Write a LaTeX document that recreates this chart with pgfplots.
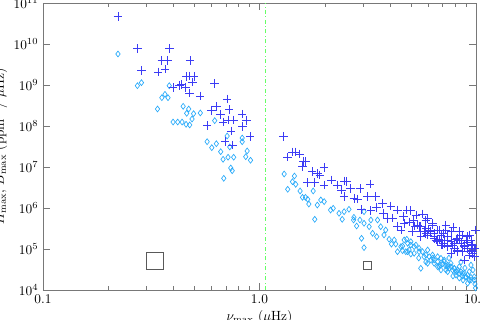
\documentclass[border=0pt]{standalone}
\usepackage{pgfplots}
\pgfplotsset{compat=1.18}
\definecolor{plusblue}{RGB}{60,60,245}
\definecolor{diablue}{RGB}{40,170,250}
\definecolor{axgray}{RGB}{120,120,120}
\begin{document}
\begin{tikzpicture}
\begin{axis}[
  at={(0,0)}, anchor=south west,
  scale only axis, width=324.75pt, height=215.25pt,
  xmode=log, ymode=log,
  xmin=0.1, xmax=10, ymin=1e4, ymax=1e11,
  axis line style={axgray},
  tick style={axgray},
  major tick length=5.5pt, minor tick length=3pt,
  xtick={0.1,1,10}, xticklabels={0.1,1.0,10.0},
  ytick={1e4,1e5,1e6,1e7,1e8,1e9,1e10,1e11},
  yminorticks=false,
  xlabel={$\nu_{\max}$ ($\mu$Hz)},
  ylabel={$H_{\max}$, $B_{\max}$ (ppm$^2$ / $\mu$Hz)},
  xlabel style={yshift=2pt},
  ylabel style={yshift=-2pt},
  clip=true,
]
% vertical separator
\addplot[color=green!60!white, dash dot, thin] coordinates {(1.066,1e4) (1.066,1e11)};
% B_max (diamonds)
\addplot[only marks, mark=diamond, mark size=2.2pt, color=diablue, mark options={draw=diablue, fill=none, line width=0.5pt}] coordinates {
(0.222,5.70e9) (0.273,9.62e8) (0.285,1.14e9) (0.383,9.62e8) (0.366,5.93e8) (0.354,4.90e8)
(0.378,4.90e8) (0.338,2.60e8) (0.444,3.02e8) (0.471,2.60e8) (0.461,2.04e8) (0.496,2.00e8)
(0.533,2.08e8) (0.488,1.48e8) (0.399,1.25e8) (0.419,1.25e8) (0.439,1.25e8) (0.458,1.10e8)
(0.476,1.06e8) (0.621,1.35e8) (0.709,5.70e7) (0.573,4.14e7) (0.632,3.70e7) (0.602,2.96e7)
(0.832,5.10e7) (0.832,4.14e7) (0.729,3.08e7) (0.877,2.46e7) (0.662,2.36e7) (0.864,1.78e7)
(0.716,1.73e7) (0.760,1.73e7) (0.679,1.54e7) (0.909,1.46e7) (0.737,9.46e6) (0.684,5.30e6)
(0.748,8.13e6)
(1.30,6.75e6) (1.35,2.86e6) (1.42,4.38e6) (1.45,6.03e6) (1.47,3.78e6) (1.54,2.60e6)
(1.58,1.82e6) (1.63,1.82e6) (1.67,1.63e6) (1.77,2.60e6) (1.69,1.25e6) (1.85,1.18e6)
(1.92,1.57e6) (1.99,1.43e6) (2.13,8.93e5) (2.19,9.84e5) (1.80,5.30e5) (2.33,7.43e5)
(2.41,5.30e5) (2.46,8.13e5) (2.59,9.30e5) (2.73,5.93e5) (2.72,5.10e5) (2.91,5.10e5)
(2.81,3.64e5) (3.04,4.24e5) (3.27,5.10e5) (2.96,1.82e5) (3.04,1.08e5) (3.21,3.50e5)
(3.33,2.42e5) (3.48,2.00e5) (3.76,2.20e5) (3.83,2.91e5) (3.97,1.73e5) (4.19,1.66e5)
(4.26,1.32e5) (4.07,1.32e5) (4.58,1.18e5) (4.79,1.73e5) (5.00,1.51e5) (4.58,9.10e4)
(4.83,8.60e4) (5.28,1.25e5) (5.46,8.60e4) (5.56,3.38e4) (5.76,6.49e4) (5.98,9.46e4)
(6.19,5.39e4) (6.41,4.48e4) (6.65,6.49e4) (6.83,4.07e4) (7.13,5.39e4) (7.40,3.70e4)
(7.66,4.48e4) (7.94,3.38e4) (8.17,2.79e4) (8.37,3.70e4) (8.68,2.55e4) (8.99,2.11e4)
(9.31,2.79e4) (9.48,1.75e4) (9.82,2.11e4) (9.89,1.40e4) (9.15,1.46e4) (8.08,2.32e4)
(7.26,3.08e4) (6.65,3.70e4) (5.98,4.48e4) (5.18,7.85e4) (4.34,8.60e4) (3.63,3.50e5)
(3.51,5.10e5) (3.04,8.13e5) (7.50,6.03e4) (8.52,4.82e4) (8.89,3.44e4) (9.48,4.07e4)
(9.68,3.08e4) (9.95,1.12e4) (8.71,1.75e4) (7.83,2.19e4) (8.37,1.96e4) (6.89,3.08e4)
(6.32,6.03e4) (5.87,4.82e4) (5.44,6.03e4) (5.00,7.55e4)
(4.66,1.66e5) (4.83,1.38e5) (5.00,1.25e5) (5.18,1.14e5) (5.46,1.04e5) (5.66,8.60e4)
(5.87,7.14e4) (6.08,6.49e4) (6.30,7.14e4) (6.41,5.39e4) (6.65,4.90e4) (6.89,5.93e4)
(7.13,4.90e4) (7.40,4.07e4) (7.66,3.70e4) (7.94,3.38e4) (8.23,3.08e4) (8.52,2.79e4)
(8.83,2.55e4) (9.15,2.32e4) (9.48,2.04e4) (9.82,1.75e4) (9.31,1.75e4) (8.99,2.04e4)
(8.68,2.19e4) (8.37,2.55e4) (8.08,2.79e4) (7.80,3.08e4) (7.52,3.38e4) (7.26,3.85e4)
(7.01,4.31e4) (4.50,1.14e5) (4.74,8.60e4) (4.91,9.46e4) (6.76,3.70e4) (7.40,2.79e4)
};
% H_max (pluses)
\addplot[only marks, mark=+, mark size=3.2pt, color=plusblue, mark options={draw=plusblue, line width=0.6pt}] coordinates {
(0.222,4.63e10) (0.273,7.86e9) (0.384,7.86e9) (0.354,4.00e9) (0.376,4.00e9) (0.478,4.00e9)
(0.285,2.28e9) (0.340,2.08e9) (0.366,2.45e9) (0.459,1.63e9) (0.473,1.66e9) (0.498,1.63e9)
(0.490,1.18e9) (0.621,1.08e9) (0.426,9.84e8) (0.437,1.02e9) (0.399,8.79e8) (0.456,8.79e8)
(0.476,6.38e8) (0.532,5.39e8) (0.709,4.56e8) (0.632,2.96e8) (0.724,2.55e8) (0.600,2.42e8)
(0.662,1.89e8) (0.832,1.96e8) (0.871,1.38e8) (0.721,1.40e8) (0.760,1.40e8) (0.679,1.25e8)
(0.573,1.04e8) (0.834,9.84e7) (0.740,7.55e7) (0.906,5.48e7) (0.694,4.14e7) (0.752,3.44e7)
(1.29,5.48e7) (1.35,1.75e7) (1.42,2.32e7) (1.47,2.32e7) (1.53,2.08e7) (1.60,1.35e7)
(1.63,1.35e7) (1.58,1.02e7) (1.75,7.68e6) (1.85,7.02e6) (1.99,9.84e6) (1.90,6.38e6)
(1.67,4.14e6) (1.80,4.24e6) (1.99,3.64e6) (2.15,4.82e6) (2.29,3.64e6) (2.47,4.56e6)
(2.53,4.38e6) (2.39,2.75e6) (2.64,3.02e6) (2.91,3.02e6) (3.24,3.85e6) (2.46,1.89e6)
(2.73,1.73e6) (2.83,1.66e6) (3.15,1.89e6) (3.44,1.89e6) (2.96,9.30e5) (3.27,8.60e5)
(3.48,1.04e6) (3.70,1.30e6) (4.04,1.12e6) (3.74,7.43e5) (3.90,5.61e5) (4.34,8.93e5)
(4.79,8.93e5) (5.00,8.60e5) (4.63,6.14e5) (5.15,4.90e5) (5.66,7.14e5) (5.87,5.10e5)
(5.46,3.50e5) (5.76,2.64e5) (6.30,3.85e5) (6.76,2.91e5) (7.09,2.42e5) (7.66,2.64e5)
(7.40,1.66e5) (8.08,1.73e5) (8.68,2.20e5) (9.31,2.20e5) (8.83,1.25e5) (9.48,1.32e5)
(8.68,8.60e4) (9.65,8.60e4) (9.82,6.49e4) (6.76,1.73e5) (7.13,1.38e5) (7.80,1.25e5)
(8.23,9.46e4) (5.98,2.20e5) (5.56,2.00e5) (6.41,2.00e5) (4.66,4.24e5) (4.34,3.64e5)
(5.22,3.64e5) (7.26,3.85e5) (7.83,3.40e5) (8.37,1.66e5) (9.08,1.47e5) (9.89,1.06e5)
(9.95,2.91e5) (9.31,7.14e4) (6.89,1.25e5) (6.53,1.66e5) (6.06,2.91e5) (5.28,6.72e5)
(4.90,4.56e5) (4.13,5.70e5)
(5.98,5.61e5) (6.30,4.24e5) (5.37,3.85e5) (5.56,3.50e5) (5.87,3.20e5) (6.19,2.64e5)
(6.41,2.42e5) (6.65,2.91e5) (6.89,2.20e5) (7.13,1.66e5) (7.40,2.00e5) (7.66,1.51e5)
(7.94,1.38e5) (8.23,1.82e5) (8.52,1.38e5) (8.83,1.14e5) (9.15,1.04e5) (9.48,9.46e4)
(9.65,1.25e5) (9.15,2.00e5) (9.31,7.14e4) (8.83,5.39e4) (8.23,8.60e4) (7.66,7.85e4)
(7.94,1.04e5) (7.40,1.14e5) (6.89,1.66e5) (4.50,2.91e5) (5.09,2.64e5) (5.56,2.64e5)
(5.87,2.42e5) (6.41,1.82e5) (6.65,1.51e5) (7.01,1.25e5) (7.26,2.91e5) (8.37,2.64e5)
(8.68,2.20e5) (8.99,1.66e5) (9.48,1.66e5) (9.82,1.04e5) (9.65,7.85e4)
};
% error-size boxes
\addplot[only marks, mark=square, mark size=6.4pt, color=black!65] coordinates {(0.328,5.1e4)};
\addplot[only marks, mark=square, mark size=3pt, color=black!65] coordinates {(3.13,4.0e4)};
\end{axis}
\pgfresetboundingbox
\path[use as bounding box] (-32.25pt,-21.75pt) rectangle (327.75pt,217.5pt);
\end{tikzpicture}
\end{document}
